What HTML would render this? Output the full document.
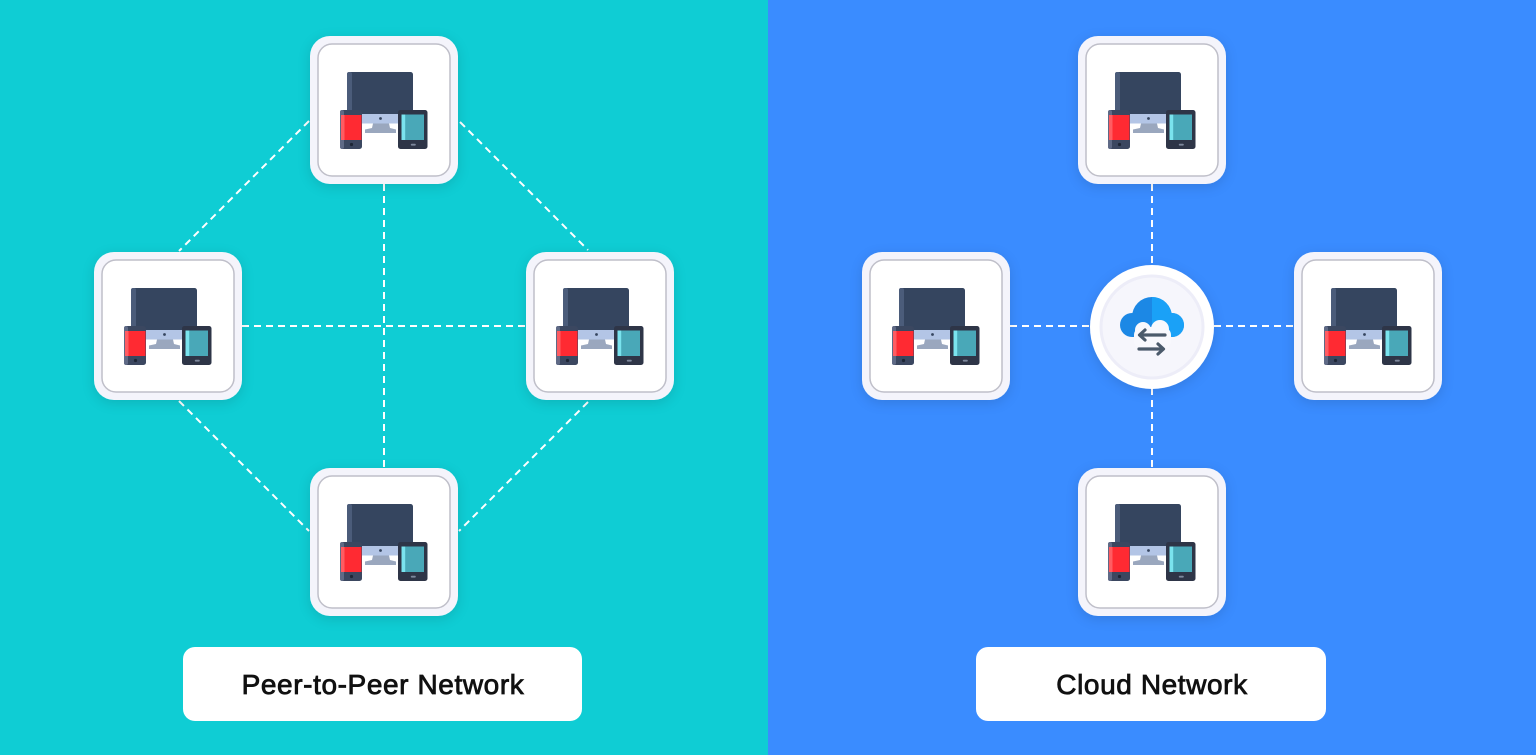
<!DOCTYPE html>
<html>
<head>
<meta charset="utf-8">
<style>
html,body{margin:0;padding:0;width:1536px;height:755px;overflow:hidden;}
svg{display:block;}
</style>
</head>
<body>
<svg width="1536" height="755" viewBox="0 0 1536 755" xmlns="http://www.w3.org/2000/svg">
<defs>
  <filter id="sh" x="-30%" y="-30%" width="160%" height="160%">
    <feDropShadow dx="0" dy="3" stdDeviation="6" flood-color="#000" flood-opacity="0.12"/>
  </filter>
  <clipPath id="rightHalf"><rect x="1152" y="280" width="60" height="80"/></clipPath>
  <g id="node">
    <rect x="0" y="0" width="148" height="148" rx="20" fill="#f4f4fb"/>
    <rect x="8" y="8" width="132" height="132" rx="14" fill="#ffffff" stroke="#bfbfc9" stroke-width="1.5"/>
    <!-- monitor -->
    <rect x="37" y="36" width="66" height="44" rx="2.5" fill="#35445e"/>
    <rect x="37" y="36" width="5" height="44" rx="2" fill="#4c5c7a"/>
    <rect x="37" y="78" width="66" height="9.5" rx="1.5" fill="#b3c5e6"/>
    <circle cx="70.5" cy="82.5" r="1.4" fill="#35445e"/>
    <polygon points="63,87.5 79,87.5 80,92 86,93.5 86,97 55,97 55,93.5 62,92" fill="#9aa7be"/>
    <!-- phone -->
    <rect x="30" y="74" width="22" height="39" rx="2.5" fill="#3a4660"/>
    <rect x="30" y="74" width="4" height="39" rx="2" fill="#5e6a86"/>
    <rect x="31" y="79" width="20.5" height="25" fill="#ff2a30"/>
    <rect x="31" y="79" width="3.5" height="25" fill="#ff5c62"/>
    <circle cx="41.5" cy="108.5" r="1.6" fill="#1f2636"/>
    <!-- tablet -->
    <rect x="88" y="74" width="29.5" height="39" rx="2.5" fill="#2f3547"/>
    <rect x="91.5" y="78.5" width="22.5" height="25.5" fill="#4aa8b8"/>
    <rect x="91.5" y="78.5" width="3.7" height="25.5" fill="#7ae3ee"/>
    <rect x="100.8" y="107.8" width="5" height="1.8" rx="0.9" fill="#7d889c"/>
  </g>
</defs>

<!-- backgrounds -->
<rect x="0" y="0" width="768" height="755" fill="#0fcdd4"/>
<rect x="768" y="0" width="768" height="755" fill="#3a8cff"/>

<!-- left panel dashed connectors -->
<g stroke="#ffffff" stroke-width="2" stroke-dasharray="7 5" fill="none">
  <line x1="309" y1="121" x2="179" y2="251"/>
  <line x1="460" y1="122" x2="588" y2="250"/>
  <line x1="179" y1="401" x2="309" y2="531"/>
  <line x1="588" y1="402" x2="459" y2="531"/>
  <line x1="242" y1="326" x2="526" y2="326"/>
  <line x1="384" y1="184" x2="384" y2="468"/>
</g>

<!-- right panel dashed connectors -->
<g stroke="#ffffff" stroke-width="2" stroke-dasharray="7 5" fill="none">
  <line x1="1152" y1="184" x2="1152" y2="468"/>
  <line x1="1010" y1="326" x2="1294" y2="326"/>
</g>

<!-- left panel nodes -->
<g filter="url(#sh)">
  <use href="#node" x="310" y="36"/>
  <use href="#node" x="94" y="252"/>
  <use href="#node" x="526" y="252"/>
  <use href="#node" x="310" y="468"/>
</g>

<!-- right panel nodes -->
<g filter="url(#sh)">
  <use href="#node" x="1078" y="36"/>
  <use href="#node" x="862" y="252"/>
  <use href="#node" x="1294" y="252"/>
  <use href="#node" x="1078" y="468"/>
</g>

<!-- cloud hub -->
<circle cx="1152" cy="327" r="62" fill="#ffffff" filter="url(#sh)"/>
<circle cx="1152" cy="327" r="51" fill="#f6f6fc" stroke="#ededf8" stroke-width="3"/>
<g fill="#1c88e5">
  <circle cx="1152" cy="317" r="20"/>
  <circle cx="1132" cy="325" r="12"/>
  <circle cx="1172" cy="325" r="12"/>
  <rect x="1132" y="317" width="40" height="20"/>
</g>
<g fill="#1aa1f7" clip-path="url(#rightHalf)">
  <circle cx="1152" cy="317" r="20"/>
  <circle cx="1172" cy="325" r="12"/>
  <rect x="1132" y="317" width="40" height="20"/>
</g>
<!-- notch -->
<g fill="#f8f8fd">
  <rect x="1134" y="327" width="37" height="22" rx="8"/>
  <circle cx="1143" cy="330" r="8"/>
  <circle cx="1160" cy="329" r="9"/>
</g>
<!-- arrows -->
<g stroke="#4b5a6b" stroke-width="3.2" stroke-linecap="round" stroke-linejoin="round" fill="none">
  <line x1="1141" y1="335" x2="1165" y2="335"/>
  <polyline points="1145,330 1139.5,335 1145,340"/>
  <line x1="1139" y1="349" x2="1162" y2="349"/>
  <polyline points="1158,344 1163.5,349 1158,354"/>
</g>

<!-- labels -->
<rect x="183" y="647" width="399" height="74" rx="12" fill="#ffffff"/>
<rect x="976" y="647" width="350" height="74" rx="12" fill="#ffffff"/>
<g font-family="'Liberation Sans', Arial, sans-serif" font-size="28" fill="#111111" stroke="#111111" stroke-width="0.8" letter-spacing="0.6" text-anchor="middle">
  <text x="383" y="694">Peer-to-Peer Network</text>
  <text x="1152" y="694">Cloud Network</text>
</g>
</svg>
</body>
</html>
